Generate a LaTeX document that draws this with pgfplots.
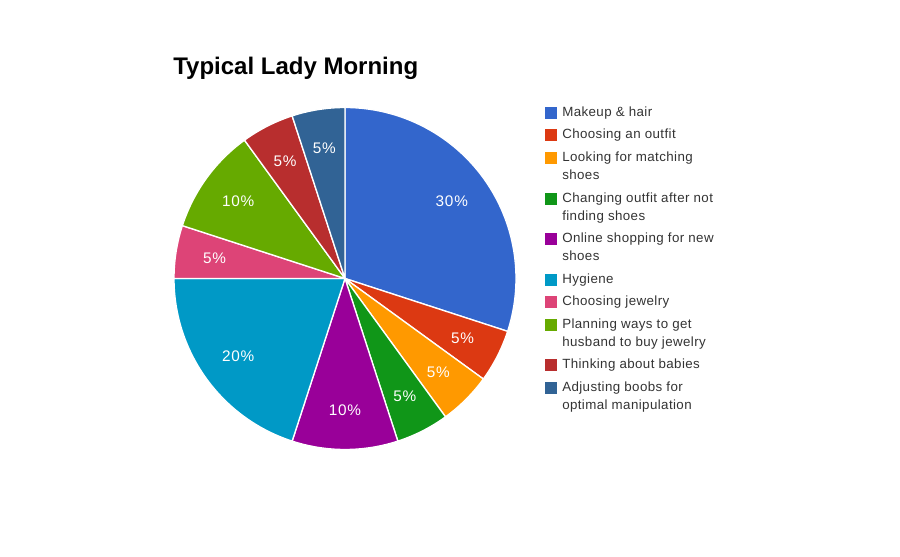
\documentclass[border=0pt]{standalone}
\usepackage{pgfplots}
\usepackage{pgfplotstable}
\pgfplotsset{compat=1.18}
\usepackage{fontspec}
\setmainfont{Liberation Sans}
\newfontfamily\legfont[LetterSpace=3]{Liberation Sans}
\newfontfamily\pctfont[LetterSpace=5]{Liberation Sans}

\definecolor{cA}{HTML}{3366CC}
\definecolor{cB}{HTML}{DC3912}
\definecolor{cC}{HTML}{FF9900}
\definecolor{cD}{HTML}{109618}
\definecolor{cE}{HTML}{990099}
\definecolor{cF}{HTML}{0099C6}
\definecolor{cG}{HTML}{DD4477}
\definecolor{cH}{HTML}{66AA00}
\definecolor{cI}{HTML}{B82E2E}
\definecolor{cJ}{HTML}{316395}

% share (percent), slice colour, legend baseline (px from top)
\pgfplotstableread{
value color ly
30 cA 117
5  cB 139
5  cC 162
5  cD 203
10 cE 243
20 cF 284
5  cG 306
10 cH 329
5  cI 369
5  cJ 392
}\piedata

\begin{document}
\begin{tikzpicture}
\begin{axis}[
    at={(0,0)}, anchor=south west,
    width=675pt, height=417.75pt, scale only axis,
    xmin=0, xmax=900, ymin=0, ymax=557,
    hide axis, clip=false,
]
% keep the full canvas as bounding box
\path[draw=none] (axis cs:0,0) rectangle (axis cs:900,557);
\def\cx{345}\def\cy{278.5}
\def\cum{0}
\pgfplotsforeachungrouped \i in {0,...,9}{%
  \pgfplotstablegetelem{\i}{value}\of\piedata\let\v=\pgfplotsretval
  \pgfplotstablegetelem{\i}{color}\of\piedata\let\c=\pgfplotsretval
  \pgfplotstablegetelem{\i}{ly}\of\piedata\let\ly=\pgfplotsretval
  \pgfmathsetmacro{\a}{90-3.6*\cum}
  \pgfmathsetmacro{\b}{90-3.6*(\cum+\v)}
  \pgfmathsetmacro{\m}{(\a+\b)/2}
  \pgfmathsetmacro{\lx}{\cx+132*cos(\m)}
  \pgfmathsetmacro{\lyy}{\cy+132*sin(\m)}
  \pgfmathsetmacro{\sqt}{557-\ly+10}
  \pgfmathsetmacro{\sqb}{557-\ly-2}
  \edef\temp{%
    \noexpand\fill[\c,draw=white,line width=1pt,line join=round]
      (axis cs:\cx,\cy) -- ([shift={(\a:128.25pt)}]axis cs:\cx,\cy)
      arc[start angle=\a,end angle=\b,radius=128.25pt] -- cycle;
    \noexpand\node[white,font=\noexpand\pctfont\noexpand\fontsize{11.5}{13}\noexpand\selectfont]
      at (axis cs:\lx,\lyy) {\v\noexpand\%};
    \noexpand\fill[\c] (axis cs:545,\sqb) rectangle (axis cs:557,\sqt);
  }\temp
  \pgfmathsetmacro{\cum}{\cum+\v}
}
% title
\node[anchor=base west,inner sep=0pt,font=\bfseries\fontsize{18}{20}\selectfont]
  at (axis cs:173,482) {Typical Lady Morning};
% legend text
\begin{scope}[every node/.style={anchor=base west,inner sep=0pt,
    font=\legfont\fontsize{10}{12}\selectfont,text=black!80}]
\node at (axis cs:562,440) {Makeup \& hair};
\node at (axis cs:562,418) {Choosing an outfit};
\node at (axis cs:562,395) {Looking for matching};
\node at (axis cs:562,377) {shoes};
\node at (axis cs:562,354) {Changing outfit after not};
\node at (axis cs:562,336) {finding shoes};
\node at (axis cs:562,314) {Online shopping for new};
\node at (axis cs:562,296) {shoes};
\node at (axis cs:562,273) {Hygiene};
\node at (axis cs:562,251) {Choosing jewelry};
\node at (axis cs:562,228) {Planning ways to get};
\node at (axis cs:562,210) {husband to buy jewelry};
\node at (axis cs:562,188) {Thinking about babies};
\node at (axis cs:562,165) {Adjusting boobs for};
\node at (axis cs:562,147) {optimal manipulation};
\end{scope}
\end{axis}
\end{tikzpicture}
\end{document}
